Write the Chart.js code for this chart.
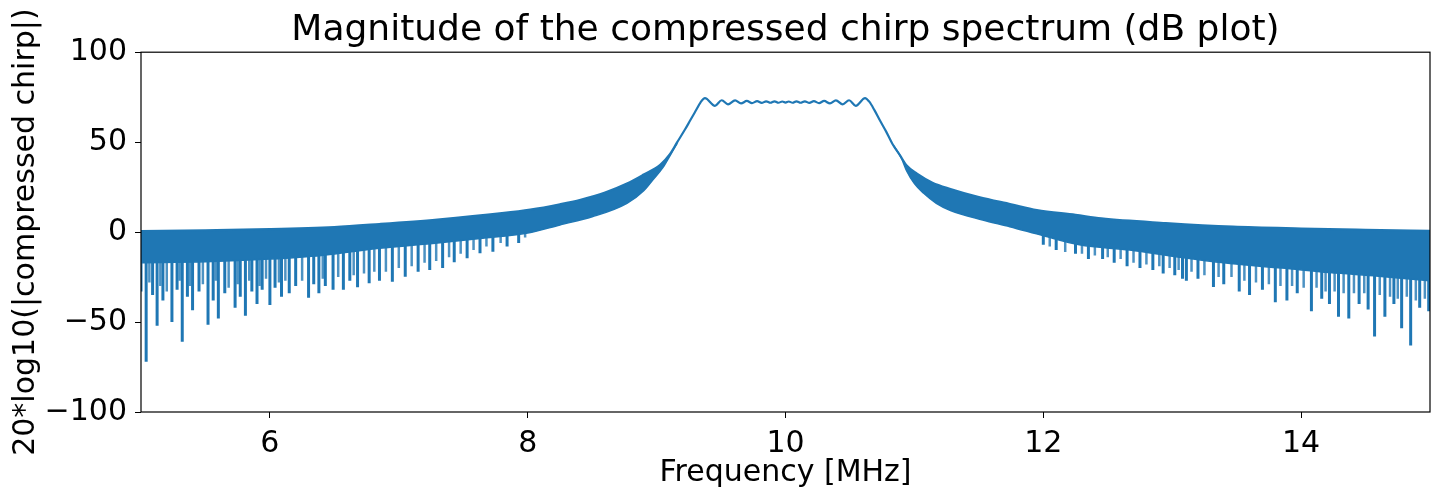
<!DOCTYPE html>
<html>
<head>
<meta charset="utf-8">
<script src="https://cdn.jsdelivr.net/npm/chart.js@4.4.1/dist/chart.umd.min.js"></script>
<style>
  html, body { margin: 0; padding: 0; background: #fff; }
  #wrap { width: 1438px; height: 491px; }
</style>
</head>
<body>
<div id="wrap"><canvas id="chirpChart" width="1438" height="491"></canvas></div>
<script>
// upper edge of the trace (MHz, dB)
const upperFreq = [5.00, 5.50, 6.00, 6.50, 6.85, 7.30, 7.80, 8.02, 8.25, 8.41, 8.60, 8.77, 8.90, 9.03, 9.10, 9.16, 9.22, 9.26, 9.30, 9.34,
  9.375, 9.453, 9.505, 9.554, 9.609, 9.655, 9.70, 9.74, 9.78, 9.815, 9.85, 9.883, 9.915, 9.945, 9.975, 10.00,
  10.025, 10.055, 10.085, 10.117, 10.15, 10.185, 10.22, 10.26, 10.30, 10.345, 10.391, 10.444, 10.493, 10.545, 10.617,
  10.65, 10.69, 10.733, 10.78, 10.83, 10.89, 10.94, 11.02, 11.14, 11.28, 11.50, 11.75, 11.95, 12.25, 12.45, 12.95, 13.47, 14.00, 14.50, 15.00];
const upperDb = [0.6, 1.0, 1.6, 2.8, 4.5, 7.0, 10.5, 12.5, 15.5, 18.0, 22.0, 27.0, 32.0, 37.5, 43.0, 50.0, 57.0, 62.0, 67.0, 72.0,
  74.5, 70.2, 73.3, 71.0, 73.2, 71.5, 72.9, 71.7, 72.8, 71.8, 72.7, 71.9, 72.7, 71.9, 72.6, 72.0,
  72.6, 71.9, 72.7, 71.9, 72.7, 71.8, 72.8, 71.7, 72.9, 71.5, 73.2, 71.0, 73.3, 70.2, 74.5,
  72.5, 67.8, 62.0, 56.0, 49.0, 42.5, 37.0, 32.5, 27.5, 24.0, 19.5, 15.5, 12.3, 9.6, 7.6, 5.0, 3.0, 2.0, 1.3, 0.7];

// lower edge of the dense part, left and right of the pass band
const lowerLeftFreq = [5.00, 5.50, 6.00, 6.40, 6.85, 7.30, 7.63, 8.00, 8.25, 8.50, 8.77, 8.90, 8.97, 9.05, 9.10, 9.16];
const lowerLeftDb = [-17, -16.5, -15, -13, -9, -6, -3.5, -0.5, 4, 8.5, 16, 23, 29, 36, 42, 49.5];
const lowerRightFreq = [10.84, 10.90, 10.94, 11.00, 11.07, 11.17, 11.28, 11.53, 11.74, 12.00, 12.28, 12.67, 13.06, 13.45, 13.85, 14.22, 14.60, 15.00];
const lowerRightDb = [48, 41, 34, 27, 21.7, 16, 12, 6.7, 3, -2, -7, -10, -14, -17.5, -20, -22.5, -24.5, -27];

// deep notches below the dense part
const spikeFreq = [5.00, 5.04, 5.09, 5.125, 5.17, 5.24, 5.28, 5.32, 5.36, 5.40, 5.45, 5.52, 5.56, 5.60, 5.65, 5.73, 5.77, 5.81, 5.86, 5.90, 5.94,
  6.00, 6.04, 6.09, 6.15, 6.20, 6.30, 6.34, 6.38, 6.43, 6.49, 6.57, 6.62, 6.68, 6.77, 6.85, 6.95, 7.05, 7.15, 7.24, 7.34, 7.43, 7.53, 7.63, 7.73, 7.84, 7.93,
  12.00, 12.10, 12.25, 12.35, 12.46, 12.55, 12.65, 12.75, 12.85, 12.93, 13.02, 13.08, 13.11, 13.20, 13.32, 13.40, 13.52, 13.60, 13.70, 13.80, 13.89, 13.97,
  14.08, 14.16, 14.22, 14.29, 14.37, 14.45, 14.52, 14.57, 14.65, 14.72, 14.78, 14.85, 14.92, 14.99];
const spikeDb = [-33, -72, -35, -52, -38, -50, -32, -61, -36, -43.5, -33, -51.5, -38, -48, -34, -42, -36, -46.5, -33, -40, -32,
  -40.5, -31, -36, -34, -30, -36.5, -29, -34, -30, -32, -32, -27, -30.7, -28.5, -27, -27.6, -24.8, -22, -21, -20, -16.7, -14.6, -11.8, -10.9, -8, -6,
  -7, -10, -12, -15, -15, -17, -19, -20, -21, -23, -24, -26, -27, -26, -30.5, -29, -33, -35, -32, -39, -38, -34,
  -44, -37, -40, -47, -48, -40, -43, -58, -47, -40, -53.5, -63, -42, -44];

// shallower, fainter notches in between
const minorFreq = [5.065, 5.15, 5.20, 5.30, 5.38, 5.48, 5.58, 5.68, 5.75, 5.84, 5.92, 5.97, 6.07, 6.12, 6.25, 6.41, 6.53, 6.65, 6.73, 6.81, 6.90,
  7.00, 7.10, 7.20, 7.29, 7.39, 7.48, 7.58, 7.68, 7.79, 7.98,
  12.05, 12.17, 12.30, 12.40, 12.50, 12.60, 12.70, 12.80, 12.90, 12.98, 13.05, 13.15, 13.25, 13.36, 13.46, 13.56, 13.65, 13.75, 13.84, 13.93,
  14.02, 14.12, 14.19, 14.26, 14.33, 14.41, 14.49, 14.61, 14.69, 14.75, 14.82, 14.89, 14.96];
const minorDb = [-28, -30, -33, -27, -30, -29, -27, -31, -29, -27, -30, -26, -28, -27, -27, -26, -25, -24, -23, -22, -22,
  -20, -19, -17, -16, -14, -12, -10, -8, -6, -3,
  -8, -11, -12, -13, -14, -15, -17, -18, -19, -20, -21, -22, -24, -25, -25, -27, -28, -29, -30, -30,
  -31, -31, -33, -33, -34, -34, -34, -35, -36, -37, -36, -38, -37];

const xTicks = [6, 8, 10, 12, 14];
const yTicks = [-100, -50, 0, 50, 100];

const blue = '#1f77b4';
const pts = (xs, ys) => xs.map((x, i) => ({ x: x, y: ys[i] }));

// each notch is a vertical stroke from its depth up into the band
function notches(xs, ys) {
  const out = [];
  xs.forEach((f, i) => {
    out.push({ x: f, y: ys[i] });
    out.push({ x: f, y: 0 });
    out.push({ x: f, y: null });
  });
  return out;
}

const frame = {
  id: 'frame',
  afterDraw(chart) {
    const a = chart.chartArea;
    const ctx = chart.ctx;
    ctx.save();
    ctx.strokeStyle = '#000';
    ctx.lineWidth = 1.2;
    ctx.strokeRect(a.left, a.top, a.right - a.left, a.bottom - a.top);
    ctx.restore();
  }
};

const fontFamily = '"DejaVu Sans", sans-serif';

new Chart(document.getElementById('chirpChart'), {
  type: 'line',
  data: {
    datasets: [
      {
        data: pts(upperFreq, upperDb),
        borderColor: blue,
        borderWidth: 2.2,
        pointRadius: 0,
        cubicInterpolationMode: 'monotone',
        fill: false
      },
      {
        data: pts(lowerLeftFreq, lowerLeftDb),
        borderColor: blue,
        borderWidth: 1.5,
        backgroundColor: blue,
        pointRadius: 0,
        cubicInterpolationMode: 'monotone',
        fill: 0
      },
      {
        data: pts(lowerRightFreq, lowerRightDb),
        borderColor: blue,
        borderWidth: 1.5,
        backgroundColor: blue,
        pointRadius: 0,
        cubicInterpolationMode: 'monotone',
        fill: 0
      },
      {
        data: notches(spikeFreq, spikeDb),
        borderColor: blue,
        borderWidth: 3,
        pointRadius: 0,
        spanGaps: false,
        tension: 0,
        fill: false
      },
      {
        data: notches(minorFreq, minorDb),
        borderColor: 'rgba(31,119,180,0.8)',
        borderWidth: 2.5,
        pointRadius: 0,
        spanGaps: false,
        tension: 0,
        fill: false
      }
    ]
  },
  options: {
    responsive: false,
    animation: false,
    devicePixelRatio: 1,
    layout: { padding: { left: 0, right: 8, top: 0, bottom: 0 } },
    plugins: {
      legend: { display: false },
      tooltip: { enabled: false },
      title: {
        display: true,
        fullSize: false,
        text: 'Magnitude of the compressed chirp spectrum (dB plot)',
        color: '#000',
        font: { family: fontFamily, size: 36, weight: 'normal' },
        padding: { top: 9, bottom: 0 }
      }
    },
    scales: {
      x: {
        type: 'linear',
        min: 5,
        max: 15,
        offset: false,
        afterBuildTicks: s => { s.ticks = xTicks.map(v => ({ value: v })); },
        afterFit: s => { s.height = 79; },
        ticks: {
          color: '#000',
          font: { family: fontFamily, size: 30 },
          padding: 8,
          maxRotation: 0,
          callback: v => String(v)
        },
        grid: { drawOnChartArea: false, drawTicks: true, tickLength: 6, color: '#000' },
        border: { display: false },
        title: {
          display: true,
          text: 'Frequency [MHz]',
          color: '#000',
          font: { family: fontFamily, size: 30 },
          padding: { top: 0, bottom: 0 }
        }
      },
      y: {
        type: 'linear',
        min: -100,
        max: 100,
        afterBuildTicks: s => { s.ticks = yTicks.map(v => ({ value: v })); },
        afterFit: s => { s.width = 141; },
        ticks: {
          color: '#000',
          font: { family: fontFamily, size: 30 },
          padding: 8,
          callback: v => (v < 0 ? '\u2212' + Math.abs(v) : String(v))
        },
        grid: { drawOnChartArea: false, drawTicks: true, tickLength: 6, color: '#000' },
        border: { display: false },
        title: {
          display: true,
          text: '20*log10(|compressed chirp|)',
          color: '#000',
          font: { family: fontFamily, size: 30 },
          padding: { top: 8, bottom: 0 }
        }
      }
    }
  },
  plugins: [frame]
});
</script>
</body>
</html>
